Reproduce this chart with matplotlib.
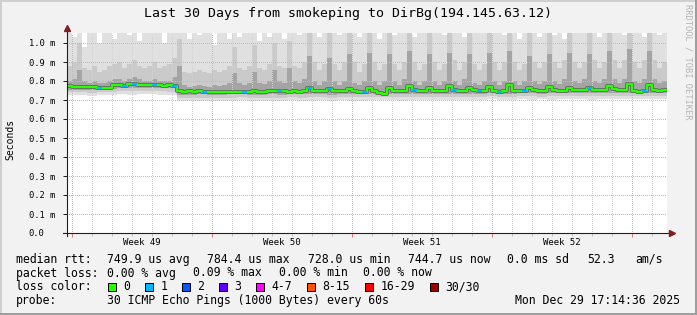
import matplotlib
matplotlib.use("Agg")
import matplotlib.pyplot as plt
import numpy as np
from matplotlib.lines import Line2D
from matplotlib.patches import Rectangle

# 30 days, 120 columns of 6 h each (oldest first), values in ms
median_ms = [
    0.772, 0.770, 0.768, 0.771, 0.770, 0.768, 0.764, 0.762, 0.763, 0.779,
    0.781, 0.772, 0.783, 0.784, 0.778, 0.779, 0.777, 0.778, 0.777, 0.776,
    0.777, 0.775, 0.748, 0.744, 0.745, 0.743, 0.745, 0.742, 0.741, 0.743,
    0.740, 0.742, 0.740, 0.744, 0.741, 0.740, 0.742, 0.745, 0.741, 0.743,
    0.746, 0.748, 0.747, 0.745, 0.744, 0.746, 0.744, 0.745, 0.763, 0.748,
    0.745, 0.746, 0.757, 0.746, 0.745, 0.747, 0.758, 0.745, 0.741, 0.744,
    0.763, 0.748, 0.735, 0.730, 0.762, 0.750, 0.748, 0.747, 0.772, 0.752,
    0.749, 0.748, 0.765, 0.750, 0.747, 0.749, 0.772, 0.752, 0.747, 0.748,
    0.765, 0.751, 0.745, 0.747, 0.768, 0.750, 0.744, 0.745, 0.777, 0.749,
    0.747, 0.748, 0.763, 0.751, 0.748, 0.750, 0.770, 0.752, 0.748, 0.749,
    0.763, 0.755, 0.752, 0.755, 0.765, 0.754, 0.751, 0.753, 0.772, 0.756,
    0.753, 0.755, 0.784, 0.750, 0.741, 0.748, 0.781, 0.752, 0.748, 0.751,
]
p75_ms = [
    0.80, 0.81, 0.86, 0.80, 0.79, 0.80, 0.79, 0.79, 0.80, 0.81,
    0.81, 0.80, 0.81, 0.82, 0.81, 0.80, 0.80, 0.81, 0.80, 0.80,
    0.80, 0.82, 0.88, 0.78, 0.77, 0.775, 0.78, 0.775, 0.77, 0.78,
    0.775, 0.78, 0.79, 0.84, 0.79, 0.78, 0.79, 0.85, 0.79, 0.785,
    0.80, 0.86, 0.80, 0.79, 0.87, 0.80, 0.79, 0.81,
    0.93, 0.80, 0.78, 0.80, 0.92, 0.80, 0.78, 0.80,
    0.94, 0.79, 0.78, 0.80, 0.95, 0.80, 0.78, 0.80,
    0.94, 0.80, 0.78, 0.81, 0.96, 0.80, 0.78, 0.80,
    0.94, 0.80, 0.78, 0.80, 0.95, 0.80, 0.78, 0.81,
    0.94, 0.79, 0.78, 0.80, 0.95, 0.80, 0.78, 0.80,
    0.96, 0.80, 0.78, 0.80, 0.93, 0.80, 0.785, 0.80,
    0.94, 0.80, 0.785, 0.81, 0.95, 0.80, 0.79, 0.81,
    0.94, 0.80, 0.79, 0.81, 0.96, 0.81, 0.79, 0.81,
    0.97, 0.80, 0.79, 0.81, 0.96, 0.81, 0.79, 0.80,
]
p90_ms = [
    0.88, 0.90, 1.00, 0.87, 0.86, 0.88, 0.85, 0.86, 0.88, 0.89,
    0.90, 0.87, 0.89, 0.91, 0.88, 0.87, 0.88, 0.90, 0.87, 0.88,
    0.89, 0.92, 1.02, 0.85, 0.84, 0.85, 0.86, 0.85, 0.84, 0.86,
    0.85, 0.86, 0.88, 0.98, 0.87, 0.86, 0.88, 0.99, 0.87, 0.86,
    0.89, 1.00, 0.88, 0.87, 1.01, 0.88, 0.87, 0.90,
    1.10, 0.90, 0.86, 0.89, 1.10, 0.89, 0.86, 0.90,
    1.10, 0.90, 0.85, 0.89, 1.10, 0.90, 0.86, 0.89,
    1.10, 0.89, 0.86, 0.90, 1.10, 0.90, 0.86, 0.89,
    1.10, 0.90, 0.86, 0.89, 1.10, 0.91, 0.86, 0.90,
    1.10, 0.89, 0.86, 0.89, 1.10, 0.90, 0.86, 0.90,
    1.10, 0.90, 0.86, 0.89, 1.10, 0.90, 0.87, 0.90,
    1.10, 0.90, 0.87, 0.91, 1.10, 0.90, 0.87, 0.90,
    1.10, 0.91, 0.87, 0.90, 1.10, 0.91, 0.87, 0.91,
    1.10, 0.90, 0.87, 0.91, 1.10, 0.91, 0.87, 0.90,
]
max_ms = [
    1.10, 1.03, 1.10, 0.98, 1.10, 1.10, 1.00, 1.10, 1.10, 1.02,
    1.10, 1.10, 1.04, 1.10, 1.01, 1.10, 1.10, 1.10, 1.10, 1.00,
    1.10, 1.10, 1.10, 1.10, 1.02, 1.10, 1.04, 1.10, 1.10, 0.99,
    1.10, 1.10, 1.02, 1.10, 1.03, 1.10, 1.10, 1.10, 1.01, 1.10,
    1.03, 1.10, 1.10, 1.02, 1.10, 1.10, 1.04, 1.10,
    1.10, 1.10, 1.03, 1.10, 1.10, 1.10, 1.04, 1.10, 1.10, 1.10, 1.03, 1.10,
    1.10, 1.10, 1.02, 1.10, 1.10, 1.04, 1.10, 1.10, 1.10, 1.03, 1.10, 1.10,
    1.10, 1.10, 1.10, 1.04, 1.10, 1.10, 1.10, 1.03, 1.10, 1.10, 1.10, 1.10,
    1.10, 1.10, 1.10, 1.04, 1.10, 1.10, 1.02, 1.10, 1.10, 1.10, 1.03, 1.10,
    1.10, 1.04, 1.10, 1.02, 1.10, 1.10, 1.10, 1.10, 1.10, 1.10, 1.03, 1.10,
    1.10, 1.10, 1.10, 1.04, 1.10, 1.10, 1.10, 1.03, 1.10, 1.10, 1.04, 1.10,
]
# lower side of the smoke, 60 half-day values
min_ms = [
    0.724, 0.726, 0.722, 0.725, 0.727, 0.729, 0.728, 0.730, 0.729, 0.727,
    0.728, 0.696, 0.694, 0.697, 0.695, 0.693, 0.696, 0.698, 0.695, 0.694,
    0.697, 0.696, 0.698, 0.695, 0.697, 0.699, 0.696, 0.698, 0.694, 0.697,
    0.699, 0.700, 0.698, 0.697, 0.699, 0.701, 0.698, 0.700, 0.699, 0.702,
    0.700, 0.701, 0.703, 0.700, 0.702, 0.704, 0.701, 0.703, 0.702, 0.704,
    0.703, 0.705, 0.702, 0.704, 0.706, 0.703, 0.705, 0.704, 0.703, 0.705,
]
p10_ms = [
    0.740, 0.741, 0.738, 0.742, 0.744, 0.746, 0.745, 0.747, 0.746, 0.745,
    0.744, 0.712, 0.711, 0.713, 0.712, 0.710, 0.713, 0.714, 0.712, 0.711,
    0.713, 0.712, 0.714, 0.713, 0.715, 0.714, 0.712, 0.715, 0.716, 0.714,
    0.715, 0.716, 0.715, 0.717, 0.716, 0.715, 0.717, 0.718, 0.716, 0.717,
    0.718, 0.717, 0.719, 0.718, 0.717, 0.719, 0.720, 0.718, 0.719, 0.720,
    0.719, 0.721, 0.720, 0.719, 0.721, 0.722, 0.720, 0.721, 0.720, 0.721,
]
p25_ms = [
    0.754, 0.755, 0.752, 0.754, 0.760, 0.763, 0.762, 0.764, 0.763, 0.762,
    0.761, 0.728, 0.727, 0.729, 0.728, 0.726, 0.729, 0.730, 0.728, 0.727,
    0.729, 0.728, 0.730, 0.729, 0.731, 0.730, 0.728, 0.731, 0.732, 0.730,
    0.731, 0.726, 0.731, 0.733, 0.732, 0.731, 0.733, 0.734, 0.732, 0.733,
    0.734, 0.733, 0.735, 0.734, 0.733, 0.735, 0.736, 0.734, 0.735, 0.736,
    0.735, 0.737, 0.736, 0.735, 0.737, 0.738, 0.736, 0.737, 0.736, 0.737,
]
# columns where one of 30 pings was lost
loss_one_cols = [6, 11, 13, 17, 21, 27, 35, 42, 48, 52, 59, 69, 77, 82, 86, 91, 104, 115]

title = "Last 30 Days from smokeping to DirBg(194.145.63.12)"
week_labels = ["Week 49", "Week 50", "Week 51", "Week 52"]
first_midnight = 0.25  # days from graph start to first day line

rtt_label = "median rtt:"
rtt_stats = ["749.9 us avg", "784.4 us max", "728.0 us min", "744.7 us now",
             "0.0 ms sd", "52.3", "am/s"]
loss_label = "packet loss:"
loss_stats = ["0.00 % avg", "0.09 % max", "0.00 % min", "0.00 % now"]
color_label = "loss color:"
loss_colors = [("0", "#26ff00"), ("1", "#00b8ff"), ("2", "#0059ff"),
               ("3", "#5e00ff"), ("4-7", "#ff00ff"), ("8-15", "#ff5500"),
               ("16-29", "#ff0000"), ("30/30", "#a00000")]
probe_label = "probe:"
probe_text = "30 ICMP Echo Pings (1000 Bytes) every 60s"
stamp = "Mon Dec 29 17:14:36 2025"

W, H = 697, 315
plt.rcParams["font.family"] = "DejaVu Sans Mono"


def fx(x):
    return x / W


def fy(y):
    return 1 - y / H


fig = plt.figure(figsize=(W / 100, H / 100), dpi=100)
fig.patch.set_facecolor("#f2f2f2")

ax = fig.add_axes([fx(67), fy(233), 600 / W, 200 / H])
ax.set_facecolor("white")
ax.set_xlim(0, 30)
ax.set_ylim(0, 200 / 190)

n = len(median_ms)
edges = np.arange(n + 1) * 30 / n


def ext(v):
    v = np.asarray(v, dtype=float)
    return np.append(v, v[-1])


lo_min = np.repeat(min_ms, 2)
lo_p10 = np.repeat(p10_ms, 2)
lo_p25 = np.repeat(p25_ms, 2)
med = np.asarray(median_ms)

# smoke
ax.fill_between(edges, ext(lo_min), ext(max_ms), step="post", color="#e0e0e0", lw=0)
ax.fill_between(edges, ext(lo_p10), ext(p90_ms), step="post", color="#cacaca", lw=0)
ax.fill_between(edges, ext(lo_p25), ext(p75_ms), step="post", color="#a4a4a4", lw=0)

# median line coloured by loss
ax.step(edges, ext(med), where="post", color="#666666", lw=2.8, zorder=2)
ax.step(edges, ext(med), where="post", color="#26ff00", lw=1.6, zorder=3)
for c in loss_one_cols:
    ax.hlines(med[c], edges[c], edges[c + 1], color="#00b8ff", lw=1.6, zorder=4)

# grid
yt = np.round(np.arange(0, 1.01, 0.1), 1)
ylabels = [f"{v:.1f} m" if v > 0 else "0.0" for v in yt]
ax.set_yticks(yt, ylabels)
ax.yaxis.set_minor_locator(matplotlib.ticker.NullLocator())
ax.set_xticks(first_midnight + np.arange(0, 30, 7))
ax.set_xticks(first_midnight + np.arange(30), minor=True)
ax.set_axisbelow("line")
dots = (0, (1, 1.5))
ax.grid(which="major", color="#f0a4a4", lw=0.72, ls=dots, antialiased=False)
ax.grid(which="minor", axis="x", color="#d2d2d2", lw=0.72, ls=dots,
        antialiased=False)

ax.tick_params(axis="x", which="major", length=3, width=0.72, color="#e08080",
               labelbottom=False)
ax.tick_params(axis="x", which="minor", length=2, width=0.72, color="#c0c0c0")
ax.tick_params(axis="y", length=3, width=0.72, color="#1f1f1f", pad=24.5,
               labelsize=6.3)
for lbl in ax.get_yticklabels():
    lbl.set_horizontalalignment("left")

for s in ax.spines.values():
    s.set_visible(False)

# axes with arrows
ax.plot([0, 0], [-0.015, 1.02], transform=ax.transAxes, color="#1f1f1f",
        lw=0.8, clip_on=False, zorder=5)
ax.plot([-0.007, 1.005], [0, 0], transform=ax.transAxes, color="#1f1f1f",
        lw=0.8, clip_on=False, zorder=5)
ax.plot([0], [1.025], marker="^", ms=4, color="#801f1f", transform=ax.transAxes,
        clip_on=False, zorder=6)
ax.plot([1.008], [0], marker=">", ms=4, color="#801f1f", transform=ax.transAxes,
        clip_on=False, zorder=6)

# week labels, centred in each week
for k, lab in enumerate(week_labels):
    xw = first_midnight + 7 * k + 3.5
    ax.text(xw, -0.048, lab, transform=ax.get_xaxis_transform(), ha="center",
            va="center", fontsize=6.5)

# texts around the plot
fig.text(0.5, fy(13), title, ha="center", va="center", fontsize=9.5)
fig.text(fx(10), fy(139), "Seconds", rotation=90, ha="center", va="center",
         fontsize=7)
fig.text(fx(688), fy(4), "RRDTOOL / TOBI OETIKER", rotation=270, ha="center",
         va="top", fontsize=6.3, color="#b4b4b4")

LEG = 8.3
row1 = [rtt_label] + rtt_stats
row1_x = [16, 107, 207, 308, 408, 507, 587, 635]
for t, x in zip(row1, row1_x):
    fig.text(fx(x), fy(259.3), t, ha="left", va="center", fontsize=LEG)

row2 = [loss_label] + loss_stats
row2_x = [16, 107, 193, 279, 363]
for t, x in zip(row2, row2_x):
    fig.text(fx(x), fy(273), t, ha="left", va="center", fontsize=LEG)

fig.text(fx(16), fy(286.7), color_label, ha="left", va="center", fontsize=LEG)
bx = 108
for lab, col in loss_colors:
    fig.add_artist(Rectangle((fx(bx), fy(290.5)), 8 / W, 8 / H,
                             transform=fig.transFigure, facecolor=col,
                             edgecolor="black", lw=0.72))
    fig.text(fx(bx + 15.5), fy(286.7), lab, ha="left", va="center", fontsize=LEG)
    bx += 30 + 7 * len(lab)

fig.text(fx(16), fy(300.3), probe_label, ha="left", va="center", fontsize=LEG)
fig.text(fx(107), fy(300.3), probe_text, ha="left", va="center", fontsize=LEG)
fig.text(fx(680), fy(300.3), stamp, ha="right", va="center", fontsize=LEG)

# 3d frame
fig.add_artist(Line2D([0, 1], [fy(0.5), fy(0.5)], transform=fig.transFigure,
                      color="#cfcfcf", lw=1.44))
fig.add_artist(Line2D([fx(0.5), fx(0.5)], [0, 1], transform=fig.transFigure,
                      color="#cfcfcf", lw=1.44))
fig.add_artist(Line2D([0, 1], [fy(314), fy(314)], transform=fig.transFigure,
                      color="#9e9e9e", lw=1.44))
fig.add_artist(Line2D([fx(696), fx(696)], [0, 1], transform=fig.transFigure,
                      color="#9e9e9e", lw=1.44))

fig.savefig("out.png", dpi=100, facecolor=fig.get_facecolor())
